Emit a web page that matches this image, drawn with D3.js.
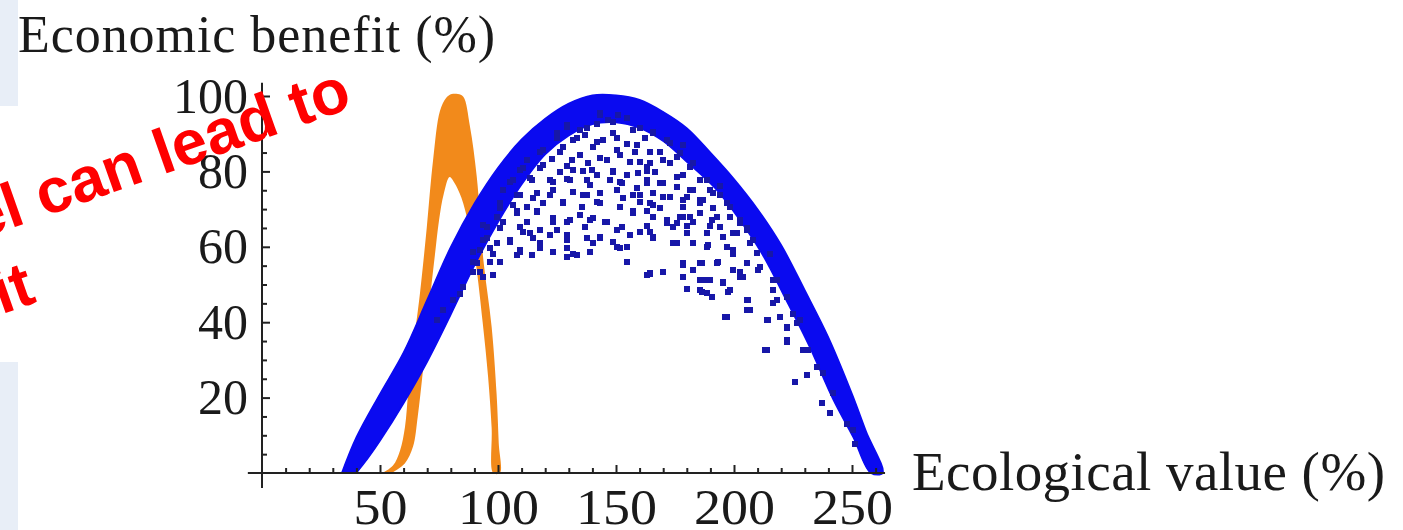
<!DOCTYPE html>
<html>
<head>
<meta charset="utf-8">
<script src="https://cdn.jsdelivr.net/npm/d3@7"></script>
<style>
  body { margin: 0; background: #fff; }
  svg { display: block; }
  .tick text { font-family: "Liberation Serif", "Times New Roman", serif; fill: #1a1a1a; }
</style>
</head>
<body>
<div id="chart"></div>
<script>
// x ticks / y ticks
const xMajor = [50, 100, 150, 200, 250];
const xMinor = [10, 20, 30, 40, 60, 70, 80, 90, 110, 120, 130, 140, 160, 170, 180, 190, 210, 220, 230, 240, 260];
const yMajor = [20, 40, 60, 80, 100];
const yMinor = [5, 10, 15, 25, 30, 35, 45, 50, 55, 65, 70, 75, 85, 90, 95];

// orange band: outer edge, then the hollow edge (right side back to left)
const orangeOuterX = [51, 55.5, 58.5, 60.6, 61.9, 63.4, 65, 67, 69.8, 72.5, 75.4, 78, 80.4, 83, 85.3, 88.1, 91, 93.8, 97.3, 99.4, 100.3, 100.8];
const orangeOuterY = [0, 2, 6, 12.3, 21, 30, 38, 48, 65, 83, 96, 99.5, 100.5, 100.5, 99.8, 92, 78.6, 56.5, 38.8, 21, 8, 0];
const orangeInnerX = [98, 97.3, 95.8, 93.5, 90.5, 87.5, 84.5, 81.5, 79.5, 77, 75, 73.3, 71.5, 70, 68, 66, 64, 60.5, 55];
const orangeInnerY = [0, 12, 25.5, 40, 56, 66, 73, 77, 78.5, 74, 67, 58, 48, 38, 26, 15, 7, 2.5, 0];

// blue dense band: upper edge and lower edge
const blueOuterX = [33.8, 40, 50, 60, 70, 80, 90, 100, 110, 120, 130, 140, 150, 160, 170, 180, 190, 200, 210, 220, 230, 240, 250, 256, 263];
const blueOuterY = [0, 9.5, 21, 32, 46, 60, 71.5, 81, 88.5, 94, 98, 100.2, 100.2, 99, 95.8, 91.5, 85, 78, 70, 60.5, 48.5, 36, 21, 11, 0];
const blueInnerX = [40, 45, 50, 60, 70, 80, 90, 100, 110, 120, 130, 140, 150, 160, 170, 180, 192, 202, 212, 222, 232, 242, 250.5, 258];
const blueInnerY = [0, 4, 8.5, 18.5, 29.5, 42, 55, 66.5, 76.5, 84.5, 89.5, 92.5, 93, 91.5, 88, 82.5, 75.5, 67.5, 58, 46, 33.5, 19.5, 9.5, 0];

// scattered blue points
const dotX = [143.2, 151.0, 141.8, 146.7, 129.1, 134.7, 124.9, 136.9, 148.9, 157.3, 165.8, 131.9, 144.6, 154.5, 162.3, 171.5, 178.5,
  119.2, 127.7, 140.4, 150.3, 158.0, 168.6, 175.7, 112.1, 122.7, 131.2, 138.3, 146.0, 155.9, 163.0, 172.9, 181.3,
  109.3, 117.8, 126.3, 131.9, 139.7, 148.9, 159.5, 166.5, 178.5, 185.6, 106.5, 114.3, 122.0, 129.1, 137.6, 147.5, 152.4, 163.0, 170.1, 175.7, 182.8, 189.8,
  102.3, 109.3, 116.4, 123.4, 131.9, 137.6, 143.2, 150.3, 157.3, 165.8, 172.9, 180.0, 187.0, 194.1,
  100.9, 106.5, 112.1, 119.2, 127.7, 135.4, 143.2, 151.7, 160.2, 168.6, 178.5, 185.6, 191.2, 198.3,
  99.4, 107.9, 116.4, 123.4, 130.5, 139.0, 145.3, 152.4, 157.3, 165.8, 171.5, 178.5, 182.8, 190.5, 194.1, 202.5,
  95.2, 100.9, 109.3, 113.6, 117.8, 124.9, 136.9, 143.2, 150.3, 164.4, 174.3, 180.0, 188.4, 199.7, 205.4,
  93.8, 99.4, 105.1, 109.3, 117.8, 123.4, 129.1, 131.9, 140.4, 150.3, 154.5, 165.8, 175.7, 182.8, 189.1, 196.9, 208.2,
  92.4, 98.0, 114.3, 129.1, 139.0, 154.5, 178.5, 186.3, 193.4, 199.7, 202.5, 210.3, 215.3,
  91.0, 96.6, 89.6, 93.8, 164.4, 170.1, 178.5, 182.8, 187.7, 195.5, 204.0, 216.7,
  85.3, 81.1, 76.9, 74.0, 83.9, 180.0, 186.3, 190.5, 197.6, 206.1, 216.7, 218.1, 222.3,
  205.4, 196.2, 214.5, 222.3, 225.2, 228.0, 213.1, 222.3, 231.5, 235.0, 225.9, 230.8, 237.9, 237.1, 242.1, 240.7, 247.7, 251.3, 250.6,
  129.1, 137.6, 143.2, 148.9, 154.5, 160.2, 165.8, 124.9, 133.3, 141.8, 150.3, 158.8, 164.4, 117.8, 126.3, 134.7, 143.2, 151.7, 160.2,
  110.7, 119.2, 129.1, 136.2, 141.8, 148.9, 154.5, 163.0, 105.1, 113.5, 123.4, 130.5, 139.0, 151.7, 158.8,
  107.9, 114.9, 122.0, 127.7, 136.2, 141.8, 153.1, 160.2, 165.8, 100.8, 107.9, 116.4, 123.4, 129.1, 134.7, 140.4, 146.0, 157.3, 163.0,
  93.8, 102.2, 112.1, 110.7, 105.1, 114.9, 122.0, 129.1, 137.6, 143.2, 148.9, 155.9, 160.2, 165.8,
  96.6, 109.3, 117.8, 129.1, 133.3, 139.0, 151.7, 154.5, 89.5, 100.8, 107.9, 163.0, 98.0, 92.4, 89.5, 95.2,
  165.8, 172.9, 164.4, 170.1, 177.1, 182.8, 163.0, 168.6, 175.7, 181.4, 188.4, 194.1, 164.4, 170.1, 178.5, 185.6, 191.2, 196.9,
  165.8, 171.5, 177.1, 181.4, 185.6, 192.7, 198.3, 202.5, 163.0, 175.7, 179.9, 189.8, 195.5, 201.1, 205.4,
  165.8, 174.3, 182.8, 188.4, 199.7, 206.8, 209.6, 178.5, 185.6, 192.7, 199.7, 205.4, 211.0,
  164.4, 170.1, 178.5, 185.6, 189.8, 195.5, 202.5, 218.1, 185.6, 188.4, 198.3, 205.4, 206.8, 196.9,
  213.8, 219.5, 222.3, 226.6, 213.8, 222.3, 229.4, 216.7, 216.7];
const dotY = [95.4, 95.0, 92.7, 93.6, 91.9, 91.0, 90.1, 89.6, 90.1, 91.0, 90.1, 88.3, 88.3, 87.4, 88.8, 88.3, 87.0,
  85.7, 86.5, 86.5, 85.7, 85.2, 85.2, 83.9, 83.0, 83.4, 83.0, 82.1, 83.0, 82.6, 81.2, 82.1, 81.2,
  80.4, 80.8, 79.9, 80.4, 80.4, 79.9, 79.5, 79.9, 79.0, 77.7, 77.7, 77.7, 77.7, 78.1, 77.7, 77.7, 76.8, 77.7, 76.8, 75.9, 75.1, 75.1,
  75.1, 73.7, 74.2, 75.1, 74.6, 73.7, 74.2, 75.1, 73.7, 74.2, 73.3, 73.3, 72.4, 73.7,
  71.5, 71.0, 70.6, 71.5, 71.5, 70.6, 71.5, 70.6, 71.9, 70.2, 70.6, 71.5, 70.2, 70.6,
  68.0, 68.9, 69.3, 66.6, 67.1, 67.1, 66.6, 65.3, 68.9, 68.0, 66.2, 68.0, 66.6, 67.1, 65.3, 66.2,
  65.3, 64.9, 65.3, 63.6, 64.4, 64.4, 65.3, 62.7, 64.4, 64.0, 65.3, 63.6, 63.6, 63.6, 64.9,
  61.8, 60.9, 61.8, 59.1, 60.9, 58.7, 61.8, 58.2, 60.9, 60.0, 60.0, 62.7, 60.9, 60.9, 60.4, 60.0, 61.8,
  59.1, 58.2, 57.8, 57.4, 58.7, 56.0, 55.2, 55.6, 56.0, 58.2, 53.4, 53.8, 58.2,
  55.6, 56.0, 53.4, 52.0, 52.9, 53.4, 52.0, 53.8, 51.2, 50.7, 52.0, 51.2,
  49.4, 45.8, 43.2, 40.5, 47.6, 48.9, 48.1, 46.7, 48.1, 45.8, 48.5, 45.8, 46.7,
  43.2, 41.4, 40.5, 38.4, 42.3, 40.5, 32.6, 34.8, 32.6, 28.2, 24.2, 26.0, 26.4, 18.5, 21.1, 15.8, 13.1, 7.8, 11.4,
  92.3, 91.4, 95.0, 93.2, 94.1, 91.4, 90.5, 88.8, 88.8, 87.9, 88.8, 87.0, 85.2, 85.2, 85.2, 84.4, 83.5, 84.4, 82.6,
  80.8, 81.7, 81.3, 80.0, 79.1, 80.0, 79.1, 80.0, 77.3, 78.2, 77.3, 77.7, 76.4, 77.3, 75.5,
  73.8, 72.9, 73.8, 72.0, 73.8, 72.0, 72.9, 73.8, 71.1, 70.2, 69.4, 69.4, 67.6, 66.7, 68.5, 67.6, 66.7, 69.4, 69.4,
  65.8, 66.7, 66.7, 64.0, 61.4, 62.3, 63.2, 63.2, 62.3, 62.3, 61.4, 63.2, 64.0, 62.3,
  59.6, 58.7, 59.6, 59.6, 57.8, 58.7, 59.6, 56.1, 56.1, 56.1, 57.8, 52.5, 52.5, 53.4, 58.7, 62.3,
  90.1, 87.5, 82.2, 83.0, 84.8, 82.2, 76.8, 76.8, 78.6, 75.1, 77.7, 76.0, 71.5, 73.3, 72.4, 72.4, 74.2, 71.5,
  68.0, 67.1, 68.0, 68.0, 68.9, 68.0, 68.0, 67.1, 65.4, 66.2, 65.4, 65.4, 62.7, 63.6, 64.5,
  62.7, 60.9, 60.9, 60.0, 59.2, 60.9, 58.3, 55.6, 55.6, 55.6, 53.9, 55.6, 54.7,
  53.0, 53.4, 52.1, 51.2, 51.2, 50.3, 52.1, 51.2, 48.6, 47.7, 48.6, 45.9, 43.2, 41.5,
  40.6, 41.5, 38.8, 39.7, 32.6, 35.3, 32.6, 45.0, 48.6];

const width = 1403, height = 530;

const svg = d3.select('#chart').append('svg')
    .attr('width', width)
    .attr('height', height);

// slide background showing at the left edge
svg.append('rect').attr('x', 0).attr('y', 0).attr('width', 18).attr('height', 106).attr('fill', '#e8eef7');
svg.append('rect').attr('x', 0).attr('y', 362).attr('width', 18).attr('height', 168).attr('fill', '#e8eef7');

const x = d3.scaleLinear().domain([0, 250]).range([262, 852]);
const y = d3.scaleLinear().domain([0, 100]).range([473, 96]);

const toPts = (xs, ys) => xs.map((v, i) => [v, ys[i]]);

const line = d3.line()
    .x(d => x(d[0]))
    .y(d => y(d[1]))
    .curve(d3.curveCatmullRom);

// orange region
const orangePts = toPts(orangeOuterX, orangeOuterY).concat(toPts(orangeInnerX, orangeInnerY));
svg.append('path')
    .attr('d', line(orangePts) + 'Z')
    .attr('fill', '#f28a1b');

// blue dense band
const bluePts = toPts(blueOuterX, blueOuterY).concat(toPts(blueInnerX, blueInnerY).reverse());
svg.append('path')
    .attr('d', line(bluePts) + 'Z')
    .attr('fill', '#0a0af0')
    .attr('stroke', '#0a0af0')
    .attr('stroke-width', 1.5);

// scattered points
svg.append('g')
    .attr('shape-rendering', 'crispEdges')
  .selectAll('rect')
  .data(toPts(dotX, dotY))
  .join('rect')
    .attr('x', d => Math.round(x(d[0]) - 3))
    .attr('y', d => Math.round(y(d[1]) - 3))
    .attr('width', 6)
    .attr('height', 6)
    .attr('fill', '#1717a8');

// axes
const axisColor = '#222';
svg.append('line')
    .attr('x1', x(-6)).attr('x2', x(264))
    .attr('y1', y(0)).attr('y2', y(0))
    .attr('stroke', axisColor).attr('stroke-width', 2);
svg.append('line')
    .attr('x1', x(0)).attr('x2', x(0))
    .attr('y1', y(-4)).attr('y2', y(103.5))
    .attr('stroke', axisColor).attr('stroke-width', 2);

const xAxisMajor = svg.append('g')
    .attr('transform', `translate(0,${y(0)})`)
    .call(d3.axisBottom(x).tickValues(xMajor).tickSize(-8).tickPadding(16));
const xAxisMinor = svg.append('g')
    .attr('transform', `translate(0,${y(0)})`)
    .call(d3.axisBottom(x).tickValues(xMinor).tickSize(-5).tickFormat(''));
const yAxisMajor = svg.append('g')
    .attr('transform', `translate(${x(0)},0)`)
    .call(d3.axisLeft(y).tickValues(yMajor).tickSize(-8).tickPadding(14));
const yAxisMinor = svg.append('g')
    .attr('transform', `translate(${x(0)},0)`)
    .call(d3.axisLeft(y).tickValues(yMinor).tickSize(-5).tickFormat(''));

[xAxisMajor, xAxisMinor, yAxisMajor, yAxisMinor].forEach(g => {
  g.select('.domain').remove();
  g.selectAll('.tick line').attr('stroke', axisColor).attr('stroke-width', 2);
});
xAxisMajor.selectAll('.tick text').style('font-size', '50px').attr('dy', '0.71em')
    .attr('transform', 'scale(1.08,1)');
yAxisMajor.selectAll('.tick text').style('font-size', '50px');

// axis titles
svg.append('text')
    .attr('x', 18).attr('y', 52)
    .attr('textLength', 477)
    .style('font-family', '"Liberation Serif", "Times New Roman", serif')
    .style('font-size', '52px')
    .attr('fill', '#1a1a1a')
    .text('Economic benefit (%)');
svg.append('text')
    .attr('x', 912).attr('y', 490)
    .attr('textLength', 473)
    .style('font-family', '"Liberation Serif", "Times New Roman", serif')
    .style('font-size', '55px')
    .attr('fill', '#1a1a1a')
    .text('Ecological value (%)');

// overlaid red slide text, cut off at the left edge
const note = svg.append('g')
    .attr('transform', 'translate(354,107) rotate(-19.5)')
    .style('font-family', '"Liberation Sans", Arial, sans-serif')
    .style('font-weight', 'bold')
    .style('font-size', '63px')
    .attr('fill', '#ff0000');
note.append('text').attr('x', 0).attr('y', 0).attr('text-anchor', 'end').text('del can lead to');
note.append('text').attr('x', -363).attr('y', 78).attr('text-anchor', 'end').text('nefit');
</script>
</body>
</html>
